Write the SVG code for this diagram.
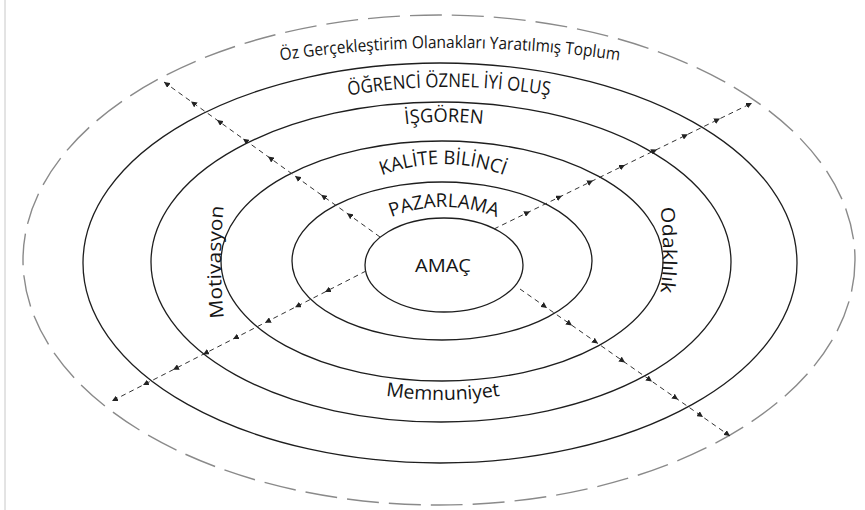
<svg xmlns="http://www.w3.org/2000/svg" width="865" height="510" viewBox="0 0 865 510">
<style>
  .ring{fill:none;stroke:#1e1e1e;stroke-width:1.3}
  .outer{fill:none;stroke:#8a8a8a;stroke-width:1.4;stroke-dasharray:32 10}
  .lbl{font-family:"Open Sans","Liberation Sans",sans-serif;fill:#151515}
  .conn{fill:none;stroke:#333;stroke-width:1;stroke-dasharray:5 4;marker-mid:url(#ah);marker-end:url(#ah)}
</style>
<defs>
  <marker id="ah" viewBox="0 0 6 6" refX="6" refY="3" markerWidth="6" markerHeight="6" markerUnits="userSpaceOnUse" orient="auto">
    <path d="M0,0 L6,3 L0,6 z" fill="#222"/>
  </marker>
  <path id="p1" d="M270,62 Q450,34 630,62"/>
  <path id="p2" d="M335,98 Q449,76 563,98"/>
  <path id="p3" d="M385,127 Q444,117 503,127"/>
  <path id="p4" d="M370,180 Q443,148 516,180"/>
  <path id="p5" d="M380,222 Q444,192 508,222"/>
  <path id="p6" d="M375,394 Q443,406 511,394"/>
  <path id="p7" d="M224,320 Q218,262 224,204"/>
  <path id="p8" d="M660,204 Q666,250 660,296"/>
</defs>
<rect width="865" height="510" fill="#fff"/>
<line x1="5" y1="0" x2="5" y2="510" stroke="#c8c8c8" stroke-width="1"/>

<g id="toplum">
  <ellipse class="outer" cx="439" cy="260" rx="416" ry="245"/>
  <text class="lbl" font-size="17"><textPath href="#p1" startOffset="50%" text-anchor="middle" textLength="340" lengthAdjust="spacingAndGlyphs">Öz Gerçekleştirim Olanakları Yaratılmış Toplum</textPath></text>
</g>
<g id="ogrenci">
  <ellipse class="ring" cx="440" cy="263" rx="357" ry="200"/>
  <text class="lbl" font-size="19"><textPath href="#p2" startOffset="50%" text-anchor="middle" textLength="202" lengthAdjust="spacingAndGlyphs">ÖĞRENCİ ÖZNEL İYİ OLUŞ</textPath></text>
</g>
<g id="isgoren">
  <ellipse class="ring" cx="441" cy="262" rx="290" ry="160"/>
  <text class="lbl" font-size="19"><textPath href="#p3" startOffset="50%" text-anchor="middle" textLength="78" lengthAdjust="spacingAndGlyphs">İŞGÖREN</textPath></text>
</g>
<g id="kalite">
  <ellipse class="ring" cx="442" cy="261" rx="221" ry="120"/>
  <text class="lbl" font-size="19"><textPath href="#p4" startOffset="50%" text-anchor="middle" textLength="125" lengthAdjust="spacingAndGlyphs">KALİTE BİLİNCİ</textPath></text>
</g>
<g id="pazarlama">
  <ellipse class="ring" cx="442" cy="261" rx="150" ry="79"/>
  <text class="lbl" font-size="19"><textPath href="#p5" startOffset="50%" text-anchor="middle" textLength="108" lengthAdjust="spacingAndGlyphs">PAZARLAMA</textPath></text>
</g>
<g id="amac">
  <ellipse class="ring" cx="444" cy="265" rx="79" ry="47"/>
  <text class="lbl" x="443" y="272" font-size="18" text-anchor="middle" textLength="56" lengthAdjust="spacingAndGlyphs">AMAÇ</text>
</g>
<g id="memnuniyet">
  <text class="lbl" font-size="19"><textPath href="#p6" startOffset="50%" text-anchor="middle" textLength="115" lengthAdjust="spacingAndGlyphs">Memnuniyet</textPath></text>
</g>
<g id="motivasyon">
  <text class="lbl" font-size="19"><textPath href="#p7" startOffset="50%" text-anchor="middle" textLength="112" lengthAdjust="spacingAndGlyphs">Motivasyon</textPath></text>
</g>
<g id="odaklilik">
  <text class="lbl" font-size="19"><textPath href="#p8" startOffset="50%" text-anchor="middle" textLength="85" lengthAdjust="spacingAndGlyphs">Odaklılık</textPath></text>
</g>

<g id="connectors">
  <path class="conn" d="M380,237 L347,213.3 L321,194.7 L295,176 L268,156.6 L243,138.7 L217,120 L191,101.4 L164,82"/>
  <path class="conn" d="M494,229 L530,211.4 L562,195.8 L593,180.6 L625,165 L657,149.4 L688,134.2 L720,118.6 L752,103"/>
  <path class="conn" d="M520,289 L547,307.9 L572,325.4 L598,343.6 L625,362.5 L652,381.4 L678,399.6 L703,417.1 L730,436"/>
  <path class="conn" d="M366,271 L325,292 L295,307.3 L265,322.7 L233,339.1 L203,354.4 L173,369.8 L143,385.1 L112,401"/>
</g>
</svg>
